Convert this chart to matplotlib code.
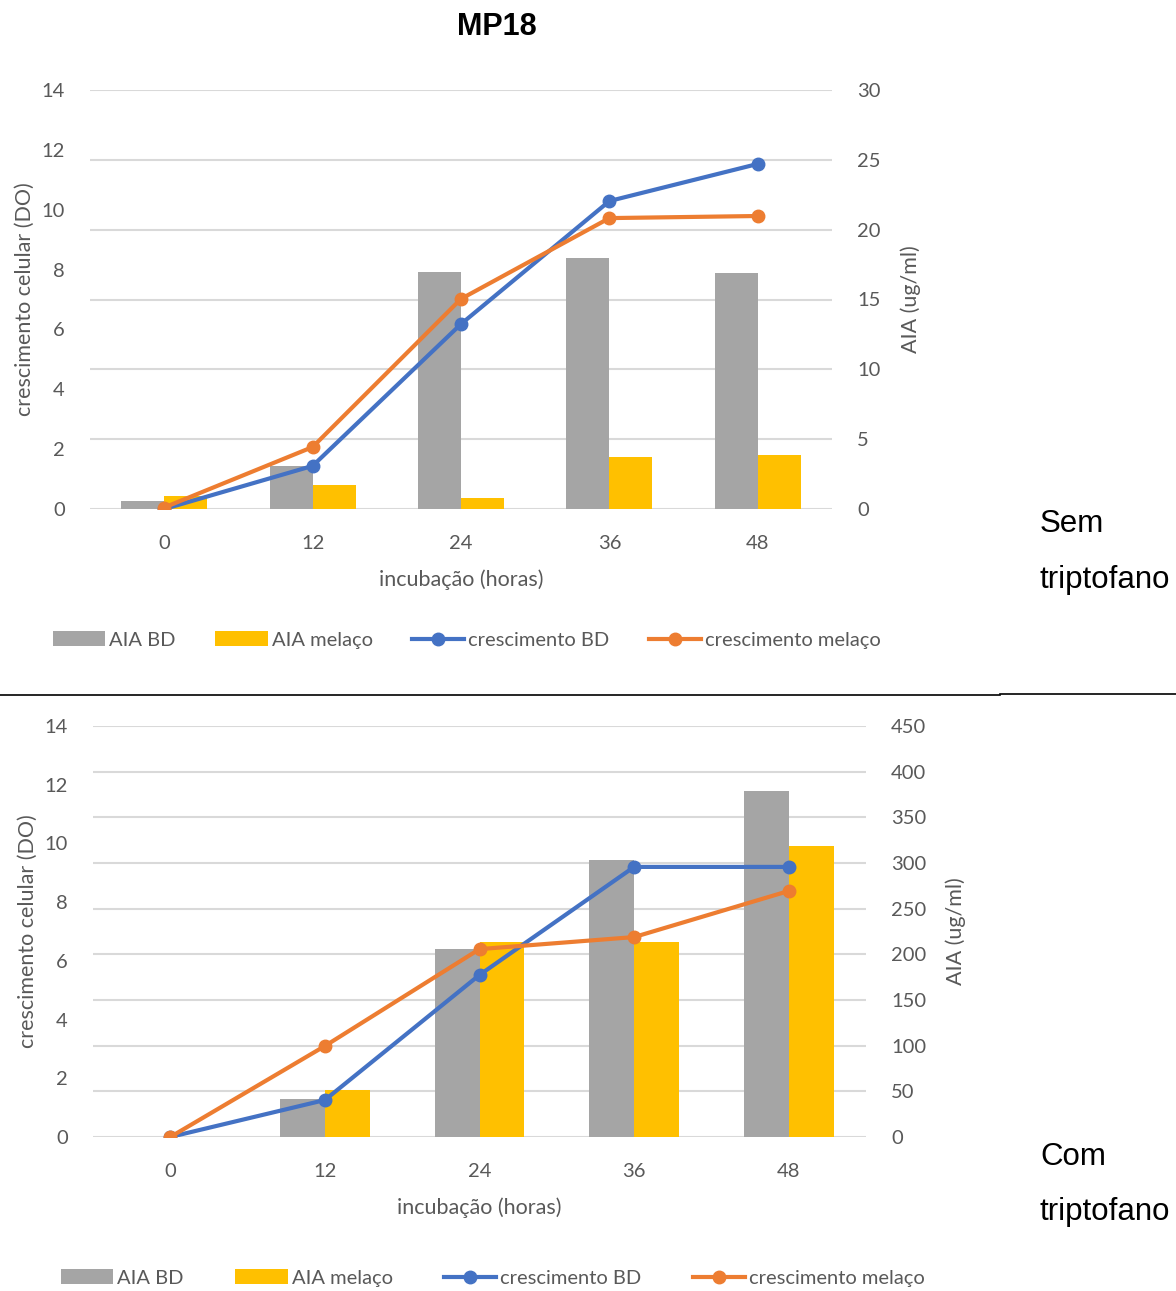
import matplotlib.pyplot as plt
import numpy as np

plt.rcParams['font.family'] = ['Lato', 'DejaVu Sans']

horas = ['0', '12', '24', '36', '48']

# sem triptofano
sem_aia_bd = [0.6, 3.1, 17.0, 18.0, 16.9]
sem_aia_melaco = [0.9, 1.7, 0.8, 3.7, 3.9]
sem_cresc_bd = [0.0, 1.44, 6.18, 10.29, 11.53]
sem_cresc_melaco = [0.05, 2.07, 7.02, 9.72, 9.79]

# com triptofano
com_aia_bd = [0, 41.5, 206, 303, 379]
com_aia_melaco = [0, 51.5, 213.5, 213.5, 318.5]
com_cresc_bd = [0.0, 1.26, 5.52, 9.2, 9.2]
com_cresc_melaco = [0.0, 3.1, 6.4, 6.81, 8.38]

cinza = '#a5a5a5'
amarelo = '#ffc000'
azul = '#4472c4'
laranja = '#ed7d31'
texto = '#595959'

W, H = 1176, 1291
fig = plt.figure(figsize=(W / 100, H / 100), dpi=100)


def box(x0, y0, x1, y1):
    return [x0 / W, 1 - y1 / H, (x1 - x0) / W, (y1 - y0) / H]


def grafico(rect, aia_bd, aia_mel, cr_bd, cr_mel, ymax2, step2, leg_pos, colsp):
    ax = fig.add_axes(rect)
    ax2 = ax.twinx()
    x = np.arange(len(horas))
    w = 0.29
    ax2.bar(x - w / 2, aia_bd, w, color=cinza, label='AIA BD', zorder=2)
    ax2.bar(x + w / 2, aia_mel, w, color=amarelo, label='AIA melaço', zorder=2)
    ax.set_zorder(ax2.get_zorder() + 1)
    ax.patch.set_visible(False)
    ax.plot(x, cr_bd, color=azul, lw=3, marker='o', ms=9, label='crescimento BD', zorder=3)
    ax.plot(x, cr_mel, color=laranja, lw=3, marker='o', ms=9, label='crescimento melaço', zorder=3)

    ax.set_xlim(-0.5, 4.5)
    ax.set_ylim(0, 14)
    ax.set_yticks(range(0, 15, 2))
    ax2.set_ylim(0, ymax2)
    ax2.set_yticks(np.arange(0, ymax2 + 1, step2))
    ax.set_xticks(x)
    ax.set_xticklabels(horas)
    for a in (ax, ax2):
        for s in a.spines.values():
            s.set_visible(False)
        a.tick_params(length=0, labelsize=14.5, colors=texto, pad=18)
    ax2.yaxis.grid(True, color='#d9d9d9', lw=1.5, zorder=0)
    ax2.set_axisbelow(True)
    ax.tick_params(axis='x', pad=19)
    ax.set_xlabel('incubação (horas)', fontsize=15.5, color=texto, labelpad=12)
    ax.set_ylabel('crescimento celular (DO)', fontsize=15.5, color=texto, labelpad=5)
    ax2.set_ylabel('AIA (ug/ml)', fontsize=15.5, color=texto, labelpad=14)

    h1, l1 = ax2.get_legend_handles_labels()
    h2, l2 = ax.get_legend_handles_labels()
    fig.legend(h1 + h2, l1 + l2, loc='center left',
               bbox_to_anchor=(leg_pos[0] / W, 1 - leg_pos[1] / H),
               ncol=4, frameon=False, fontsize=14.5, labelcolor=texto, handlelength=2.6,
               handletextpad=0.2, columnspacing=colsp, borderaxespad=0, borderpad=0)
    return ax


grafico(box(90, 90, 832, 509), sem_aia_bd, sem_aia_melaco, sem_cresc_bd, sem_cresc_melaco,
        30, 5, (53, 640), 1.95)
grafico(box(93, 726, 866, 1137), com_aia_bd, com_aia_melaco, com_cresc_bd, com_cresc_melaco,
        450, 50, (61, 1278), 2.55)

fig.text(497 / W, 1 - 27 / H, 'MP18', fontsize=22, fontweight='bold', ha='center', va='center',
         family='Liberation Sans')

fig.add_artist(plt.Line2D([0, 1000 / W], [1 - 695 / H] * 2, color='black', lw=1.2))
fig.add_artist(plt.Line2D([1000 / W, 1], [1 - 694 / H] * 2, color='black', lw=1.2))

for y, txt in [(524, 'Sem'), (580, 'triptofano'), (1157, 'Com'), (1212, 'triptofano')]:
    fig.text(1040 / W, 1 - y / H, txt, fontsize=22.5, va='center', family='Liberation Sans')

fig.savefig('out.png', dpi=100)
